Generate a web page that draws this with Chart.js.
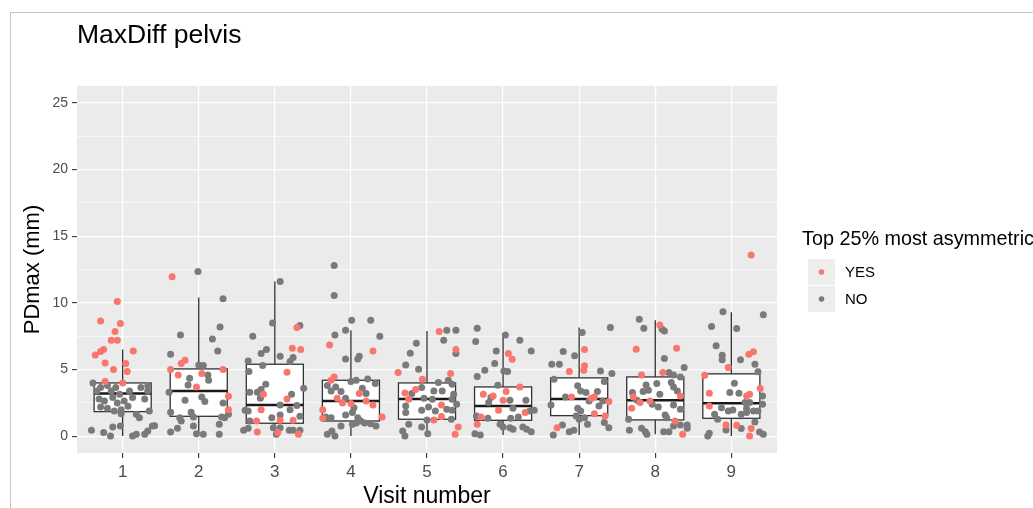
<!DOCTYPE html>
<html><head><meta charset="utf-8">
<script src="https://cdn.jsdelivr.net/npm/chart.js@4/dist/chart.umd.min.js"></script>
<style>
html,body{margin:0;padding:0;background:#fff;}
#wrap{position:relative;width:1033px;height:508px;overflow:hidden;}
#frame{position:absolute;left:10px;top:12px;right:-5px;bottom:-5px;border-left:1px solid #c4c4c4;border-top:1px solid #c4c4c4;pointer-events:none;}
canvas{position:absolute;left:0;top:0;}
</style></head><body>
<div id="wrap"><canvas id="c" width="1033" height="508"></canvas><div id="frame"></div></div>
<script>
// ---------- data ----------
const chartTitle = 'MaxDiff pelvis';
const xAxisTitle = 'Visit number';
const yAxisTitle = 'PDmax (mm)';
const legendTitle = 'Top 25% most asymmetric';
const groupLabels = ['YES', 'NO'];

const visits = [1, 2, 3, 4, 5, 6, 7, 8, 9];
const xTickLabels = ['1', '2', '3', '4', '5', '6', '7', '8', '9'];
const yTickValues = [0, 5, 10, 15, 20, 25];
const yMinorValues = [2.5, 7.5, 12.5, 17.5, 22.5];

// box plot statistics per visit
const whiskerLow  = [0.03, 0.15, 0.15, 0.03, 0.03, 0.10, 0.10, 0.15, 0.03];
const quartile1   = [1.85, 1.50, 0.98, 1.15, 1.28, 1.20, 1.55, 1.23, 1.35];
const medians     = [3.20, 3.40, 2.35, 2.65, 2.80, 2.28, 2.80, 2.70, 2.48];
const quartile3   = [4.00, 5.05, 5.40, 4.20, 4.00, 3.70, 4.38, 4.45, 4.68];
const whiskerHigh = [6.50, 10.40, 11.60, 7.95, 7.90, 7.65, 8.15, 8.70, 9.30];

// jittered observations per visit: [horizontal jitter, PDmax]
const yesVisit1 = [[-0.07,10.1],[-0.29,8.65],[-0.03,8.45],[-0.1,7.85],[-0.15,7.2],[-0.07,7.2],[-0.25,6.5],[-0.29,6.35],[-0.36,6.1],[0.14,6.4],[-0.23,5.5],[0.04,5.45],[0.06,4.85],[-0.12,5.0],[-0.23,4.1],[0,4.0]];
const noVisit1 = [[-0.39,4.0],[-0.34,3.4],[-0.29,3.65],[-0.2,3.8],[-0.15,3.4],[-0.09,3.65],[-0.04,3.15],[0.09,3.4],[0.24,3.65],[0.33,3.8],[0.33,3.4],[-0.31,2.8],[-0.24,2.65],[-0.13,2.9],[-0.07,2.5],[0.02,2.65],[0.13,2.9],[0.29,2.8],[-0.29,2.2],[-0.2,2.1],[-0.02,2.0],[0.07,2.25],[0.18,1.65],[0.22,1.4],[-0.02,1.7],[-0.11,1.9],[0.35,1.9],[-0.41,0.45],[-0.25,0.28],[-0.16,0.03],[-0.13,0.7],[-0.03,0.78],[0.13,0.03],[0.18,0.15],[0.29,0.15],[0.33,0.4],[0.39,0.78],[0.42,0.8]];
const yesVisit2 = [[-0.35,11.95],[-0.37,5.0],[-0.23,5.45],[-0.18,5.7],[-0.27,4.6],[0.04,4.7],[0.32,5.0],[-0.03,3.7],[0.39,3.0],[0.39,2.0]];
const noVisit2 = [[-0.01,12.35],[0.32,10.3],[-0.24,7.6],[0.18,7.3],[0.28,8.2],[0.25,6.4],[-0.37,6.15],[0,5.35],[0.06,5.3],[0.12,4.6],[-0.12,4.35],[-0.14,3.85],[0.13,4.2],[-0.39,3.3],[-0.18,2.7],[0.04,2.95],[0.08,2.6],[0.32,2.5],[-0.37,1.8],[-0.25,1.4],[-0.23,1.15],[-0.1,1.8],[-0.07,1.45],[0.3,1.45],[0.39,1.65],[0.34,1.4],[0.27,0.9],[-0.28,0.6],[-0.37,0.33],[-0.07,0.78],[-0.03,0.2],[0.06,0.15],[0.27,0.15]];
const yesVisit3 = [[0.29,8.15],[0.23,6.6],[0.34,6.5],[0.16,4.8],[-0.15,3.15],[-0.18,2.0],[0.16,2.8],[-0.24,1.15],[0.07,1.2],[0.24,1.2],[-0.23,0.33],[0.04,0.28],[0.31,0.15]];
const noVisit3 = [[0.07,11.6],[-0.03,8.5],[0.33,8.3],[-0.29,7.5],[-0.18,6.2],[-0.11,6.5],[0.07,6.0],[0.24,5.9],[0.2,5.6],[-0.35,5.65],[-0.16,5.3],[-0.34,4.85],[-0.12,3.9],[0.38,3.6],[-0.33,3.3],[-0.23,3.3],[-0.18,3.5],[-0.19,2.85],[0.22,3.15],[0.07,2.35],[0.29,2.3],[-0.39,1.95],[-0.35,1.9],[-0.04,1.4],[0.07,1.6],[0.33,1.5],[0.2,2.0],[-0.33,1.15],[-0.41,0.45],[-0.35,0.6],[-0.02,0.65],[0.07,0.65],[0.19,0.45],[0.24,0.45],[0.02,0.15],[0.33,0.45]];
const yesVisit4 = [[-0.28,6.85],[0.29,6.4],[-0.22,4.45],[-0.26,4.2],[0.11,3.2],[-0.18,2.85],[-0.11,2.5],[0,2.45],[0.2,2.65],[0.29,2.35],[-0.37,2.0],[-0.37,1.35],[0.41,1.45]];
const noVisit4 = [[-0.22,12.8],[-0.22,10.55],[0.01,8.7],[0.26,8.7],[-0.07,7.95],[-0.21,7.6],[0.38,7.5],[-0.07,5.8],[0.11,6.0],[0.09,5.8],[0,4.1],[0.07,4.2],[0.22,4.3],[0.32,3.95],[-0.31,3.8],[-0.2,3.7],[-0.26,3.4],[-0.13,3.35],[0.15,3.6],[0.2,3.2],[-0.07,2.85],[0.04,2.15],[-0.33,1.45],[-0.26,1.4],[-0.07,1.6],[0.02,1.78],[0.09,1.4],[0.13,1.15],[0.02,0.9],[0.07,1.0],[0.18,1.0],[0.26,0.95],[0.33,0.78],[-0.13,0.78],[-0.31,0.15],[-0.21,0.03],[-0.25,0.4]];
const yesVisit5 = [[0.16,7.85],[0.38,6.5],[-0.38,4.78],[0.31,4.7],[-0.06,4.28],[-0.15,3.5],[-0.29,3.25],[-0.24,2.78],[0.19,2.35],[0.09,1.22],[0.19,1.48],[0.41,0.7],[0.37,0.15]];
const noVisit5 = [[0.26,7.95],[0.38,7.95],[0.22,7.2],[0.38,6.2],[-0.14,6.98],[-0.22,6.22],[-0.28,5.35],[-0.11,5.03],[0.28,4.2],[0.15,4.03],[0.33,3.9],[-0.07,3.65],[-0.2,3.2],[0.09,3.4],[0.2,3.4],[0.35,3.15],[-0.04,2.85],[0.07,2.78],[0.33,2.78],[0.39,2.4],[-0.28,2.28],[0.02,2.2],[-0.07,1.95],[0.11,1.9],[0.26,2.03],[0.33,1.95],[-0.28,1.78],[0,1.22],[0.32,1.28],[-0.24,0.9],[-0.32,0.4],[-0.29,0.03],[-0.07,0.7],[0.01,0.2]];
const yesVisit6 = [[0.07,6.2],[0.12,5.78],[0.22,3.7],[0.04,3.35],[-0.26,3.15],[-0.13,3.03],[0,2.7],[-0.06,1.95],[0.29,1.78],[-0.29,1.45],[-0.34,0.9]];
const noVisit6 = [[-0.34,8.1],[-0.36,7.1],[0.03,7.6],[0.22,7.2],[0.37,6.4],[-0.09,6.4],[-0.11,5.45],[-0.24,4.95],[-0.34,4.48],[0.01,4.9],[0.06,4.85],[-0.07,3.83],[-0.16,2.9],[-0.19,2.53],[0.09,2.7],[0.3,2.7],[0.35,1.9],[0.41,1.95],[0.13,2.1],[-0.35,1.53],[-0.2,1.35],[0.1,1.35],[0.2,1.45],[-0.04,0.9],[0,0.7],[0.09,0.65],[0.13,0.53],[0.26,0.7],[0.31,0.53],[0.37,0.35],[-0.37,0.2],[-0.3,0.1]];
const yesVisit7 = [[0.07,6.5],[0.07,5.28],[0.06,4.95],[-0.13,4.85],[-0.1,2.95],[0.16,2.85],[0.2,2.95],[0.39,2.6],[0.2,1.7],[0.34,1.53],[-0.29,0.65]];
const noVisit7 = [[0.04,7.78],[0.41,8.15],[-0.21,6.35],[-0.06,6.03],[-0.36,5.4],[-0.26,5.4],[0.28,4.9],[0.43,4.7],[-0.33,4.28],[0.33,4.1],[-0.02,3.78],[0.02,3.4],[0.24,3.35],[0.09,3.28],[-0.18,2.95],[0.13,2.65],[0.31,2.65],[0.26,2.28],[-0.37,2.35],[-0.02,2.1],[0.02,1.9],[-0.04,1.53],[0,1.28],[0.07,1.4],[0.11,0.9],[0.33,1.03],[0.39,0.65],[-0.22,0.85],[-0.13,0.35],[-0.07,0.45],[-0.34,0.1]];
const yesVisit8 = [[0.06,8.35],[-0.25,6.53],[0.28,6.6],[-0.18,4.6],[0.1,4.78],[0.33,3.03],[-0.29,2.95],[-0.31,2.1],[-0.07,2.65],[-0.2,2.53],[0.26,1.15],[0.36,0.15]];
const noVisit8 = [[-0.21,8.78],[-0.15,8.1],[0.09,8.03],[0.12,7.9],[0.12,5.83],[0.38,5.15],[0.18,4.78],[0.24,4.6],[0.33,4.45],[0.21,4.03],[-0.12,3.85],[0.02,3.95],[0.24,3.7],[-0.3,3.28],[-0.16,3.35],[-0.09,3.45],[0.06,3.15],[0.29,3.4],[-0.24,2.7],[-0.04,2.4],[0.04,2.2],[0.24,2.35],[0.33,2.03],[0.13,1.6],[-0.35,1.28],[0.15,1.4],[0.24,0.78],[0.33,0.85],[0.42,0.85],[0.42,0.6],[-0.34,0.45],[-0.18,0.6],[-0.13,0.35],[-0.11,0.15],[0.11,0.35],[0.18,0.35]];
const yesVisit9 = [[0.26,13.58],[0.23,6.15],[0.29,6.33],[-0.04,5.15],[-0.35,4.58],[0.38,3.58],[-0.29,3.23],[0.24,3.15],[0.2,3.03],[-0.29,2.28],[-0.07,0.85],[0.07,0.83],[0.26,0.58],[0.24,0.03]];
const noVisit9 = [[-0.11,9.33],[0.42,9.1],[-0.26,8.23],[0.07,8.08],[-0.2,6.78],[-0.12,6.08],[-0.12,5.73],[0.12,5.73],[0.31,5.4],[0.35,4.83],[0.04,3.98],[-0.02,3.28],[0.1,3.23],[0.41,3.03],[0.18,2.53],[0.24,2.53],[0.41,2.4],[-0.13,2.15],[-0.04,1.9],[0.02,1.98],[0.2,2.08],[0.29,1.9],[0.35,1.9],[0.2,1.78],[-0.18,1.28],[0.31,1.08],[-0.22,1.65],[0.13,1.65],[-0.07,0.48],[0.13,0.58],[-0.29,0.23],[-0.31,0.03],[0.37,0.33],[0.42,0.15]];

const yesByVisit = [yesVisit1, yesVisit2, yesVisit3, yesVisit4, yesVisit5, yesVisit6, yesVisit7, yesVisit8, yesVisit9];
const noByVisit  = [noVisit1, noVisit2, noVisit3, noVisit4, noVisit5, noVisit6, noVisit7, noVisit8, noVisit9];

// ---------- styling ----------
const FONT = "'Liberation Sans', Arial, Helvetica, sans-serif";
const COL_YES = '#F8766D';
const COL_NO = '#7A7A7A';
const BOX_WIDTH = 0.75;

function toPoints(groups) {
  const out = [];
  groups.forEach((arr, i) => arr.forEach(p => out.push({ x: visits[i] + p[0], y: p[1] })));
  return out;
}

const panelPlugin = {
  id: 'panel',
  beforeDraw(chart) {
    const { ctx, chartArea: a } = chart;
    ctx.save();
    ctx.fillStyle = '#EBEBEB';
    ctx.fillRect(a.left, a.top, a.right - a.left, a.bottom - a.top);
    ctx.restore();
  },
  beforeDatasetsDraw(chart) {
    const { ctx } = chart;
    const xs = chart.scales.x, ys = chart.scales.y;
    ctx.save();
    visits.forEach((v, i) => {
      const xl = xs.getPixelForValue(v - BOX_WIDTH / 2);
      const xr = xs.getPixelForValue(v + BOX_WIDTH / 2);
      const xc = xs.getPixelForValue(v);
      const yq1 = ys.getPixelForValue(quartile1[i]);
      const yq3 = ys.getPixelForValue(quartile3[i]);
      const ymed = ys.getPixelForValue(medians[i]);
      const ylo = ys.getPixelForValue(whiskerLow[i]);
      const yhi = ys.getPixelForValue(whiskerHigh[i]);
      ctx.strokeStyle = '#333333';
      ctx.lineWidth = 1.3;
      ctx.beginPath();
      ctx.moveTo(xc, yq3); ctx.lineTo(xc, yhi);
      ctx.moveTo(xc, yq1); ctx.lineTo(xc, ylo);
      ctx.stroke();
      ctx.fillStyle = '#FFFFFF';
      ctx.fillRect(xl, yq3, xr - xl, yq1 - yq3);
      ctx.strokeRect(xl, yq3, xr - xl, yq1 - yq3);
      ctx.strokeStyle = '#1A1A1A';
      ctx.lineWidth = 2.5;
      ctx.beginPath();
      ctx.moveTo(xl, ymed); ctx.lineTo(xr, ymed);
      ctx.stroke();
    });
    ctx.restore();
  },
  afterDraw(chart) {
    const { ctx } = chart;
    ctx.save();
    ctx.fillStyle = '#000000';
    ctx.textBaseline = 'alphabetic';
    ctx.textAlign = 'left';
    ctx.font = '26.5px ' + FONT;
    ctx.fillText(chartTitle, chart.chartArea.left, 43);
    // legend
    ctx.font = '19.8px ' + FONT;
    ctx.fillText(legendTitle, 802, 245);
    const keys = [{ c: COL_YES, t: groupLabels[0], y: 259 }, { c: COL_NO, t: groupLabels[1], y: 286 }];
    keys.forEach(k => {
      ctx.fillStyle = '#EEEEEE';
      ctx.fillRect(808, k.y, 27, 26);
      ctx.fillStyle = k.c;
      ctx.beginPath();
      ctx.arc(821.5, k.y + 13, 2.8, 0, Math.PI * 2);
      ctx.fill();
      ctx.fillStyle = '#000000';
      ctx.font = '15px ' + FONT;
      ctx.textBaseline = 'middle';
      ctx.fillText(k.t, 845, k.y + 13.5);
    });
    ctx.restore();
  }
};

Chart.defaults.font.family = FONT;

new Chart(document.getElementById('c'), {
  type: 'scatter',
  data: {
    datasets: [
      { label: groupLabels[0], data: toPoints(yesByVisit), backgroundColor: COL_YES, borderWidth: 0, pointRadius: 3.5, order: 1 },
      { label: groupLabels[1], data: toPoints(noByVisit), backgroundColor: COL_NO, borderWidth: 0, pointRadius: 3.5, order: 2 }
    ]
  },
  options: {
    responsive: false,
    animation: false,
    events: [],
    layout: { padding: { left: 0, right: 256, top: 86, bottom: 0 } },
    plugins: { legend: { display: false }, title: { display: false }, tooltip: { enabled: false } },
    scales: {
      x: {
        type: 'linear', min: 0.4, max: 9.6,
        afterBuildTicks: s => { s.ticks = visits.map(v => ({ value: v })); },
        afterFit: s => { s.height = 55; },
        ticks: { callback: (v, i) => xTickLabels[i], color: '#4D4D4D', font: { size: 17 }, padding: 4, maxRotation: 0, autoSkip: false },
        grid: { color: '#FFFFFF', lineWidth: 1.2, tickColor: '#333333', tickLength: 5, tickWidth: 1.1 },
        border: { display: false },
        title: { display: true, text: xAxisTitle, color: '#000000', font: { size: 23, lineHeight: 1 }, padding: { top: 0, bottom: 0 } }
      },
      y: {
        type: 'linear', min: -1.25, max: 26.25,
        afterBuildTicks: s => { s.ticks = yTickValues.concat(yMinorValues).sort((a, b) => a - b).map(v => ({ value: v })); },
        afterFit: s => { s.width = 77; },
        ticks: { callback: v => (yTickValues.includes(v) ? String(v) : ''), color: '#4D4D4D', font: { size: 14 }, padding: 4, autoSkip: false },
        grid: {
          color: '#FFFFFF',
          lineWidth: c => (c.tick && yMinorValues.includes(c.tick.value)) ? 0.6 : 1.2,
          tickColor: c => (c.tick && yMinorValues.includes(c.tick.value)) ? 'rgba(0,0,0,0)' : '#333333',
          tickLength: 5, tickWidth: 1.1
        },
        border: { display: false },
        title: { display: true, text: yAxisTitle, color: '#000000', font: { size: 22, lineHeight: 1 }, padding: { top: 22, bottom: 0 } }
      }
    }
  },
  plugins: [panelPlugin]
});
</script>
</body></html>
